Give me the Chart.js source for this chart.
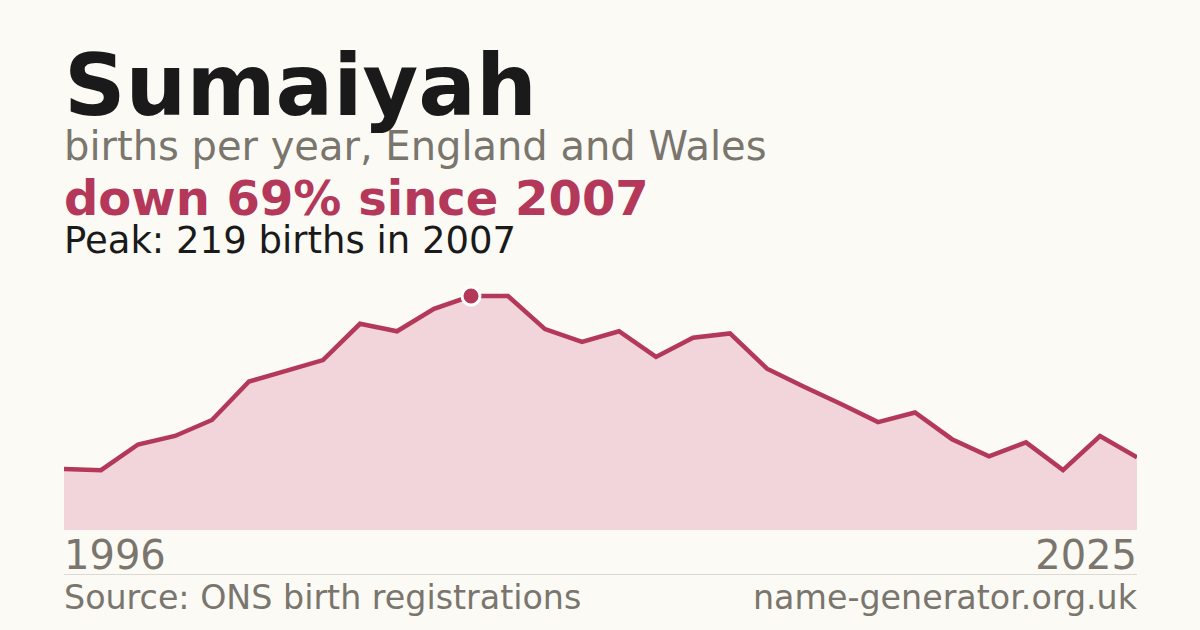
<!DOCTYPE html>
<html lang="en">
<head>
    <meta charset="UTF-8">
    <title>Sumaiyah - births per year</title>
    <script src="https://cdn.jsdelivr.net/npm/chart.js"></script>
    <style>
        body {
            margin: 0;
            width: 1200px;
            height: 630px;
            background: #fbfaf5;
            font-family: "DejaVu Sans", sans-serif;
            position: relative;
            overflow: hidden;
        }

        .txt {
            position: absolute;
            left: 64px;
            line-height: 1;
            white-space: nowrap;
        }

        .title { top: 43px; font-size: 85.5px; font-weight: 700; color: #1a1a1a; }
        .subtitle { top: 126px; font-size: 40px; color: #7a756d; }
        .change { top: 174px; font-size: 48px; font-weight: 700; color: #b3385a; }
        .peak { top: 222px; font-size: 37px; color: #1a1a1a; }
        .year { top: 535px; font-size: 40px; color: #7a756d; }
        .foot { top: 581px; font-size: 33.3px; color: #7a756d; }
        .right { left: auto; right: 63px; }

        .divider {
            position: absolute;
            left: 64px;
            width: 1073px;
            top: 574px;
            height: 1px;
            background: #dcd9d3;
        }

        #chartWrap {
            position: absolute;
            left: 64px;
            top: 270px;
            width: 1073px;
            height: 260px;
        }
    </style>
</head>
<body>
    <div class="txt title">Sumaiyah</div>
    <div class="txt subtitle">births per year, England and Wales</div>
    <div class="txt change">down 69% since 2007</div>
    <div class="txt peak">Peak: 219 births in 2007</div>

    <div id="chartWrap"><canvas id="namesChart" width="1073" height="260"></canvas></div>

    <div class="txt year">1996</div>
    <div class="txt year right">2025</div>
    <div class="divider"></div>
    <div class="txt foot">Source: ONS birth registrations</div>
    <div class="txt foot right">name-generator.org.uk</div>

    <script>
        // births per year
        const years = [1996, 1997, 1998, 1999, 2000, 2001, 2002, 2003, 2004, 2005,
                       2006, 2007, 2008, 2009, 2010, 2011, 2012, 2013, 2014, 2015,
                       2016, 2017, 2018, 2019, 2020, 2021, 2022, 2023, 2024, 2025];
        const births = [57, 56, 80, 88, 103, 139, 149, 159, 193, 186,
                        207, 219, 219, 188, 176, 186, 162, 180, 184, 151,
                        134, 118, 101, 110, 85, 69, 82, 56, 88, 68];

        const peakValue = Math.max(...births);
        const peakIndex = births.indexOf(peakValue);
        const red = '#b3385a';

        new Chart(document.getElementById('namesChart'), {
            type: 'line',
            data: {
                labels: years,
                datasets: [{
                    data: births,
                    borderColor: red,
                    borderWidth: 4.5,
                    backgroundColor: '#f2d5db',
                    fill: 'origin',
                    tension: 0,
                    borderJoinStyle: 'miter',
                    pointRadius: ctx => ctx.dataIndex === peakIndex ? 9 : 0,
                    pointBackgroundColor: red,
                    pointBorderColor: '#ffffff',
                    pointBorderWidth: 3
                }]
            },
            options: {
                responsive: false,
                animation: false,
                layout: { padding: 0 },
                plugins: {
                    legend: { display: false },
                    tooltip: { enabled: false }
                },
                scales: {
                    x: { display: false, offset: false },
                    y: { display: false, min: 0, max: peakValue / 0.9 }
                }
            }
        });
    </script>
</body>
</html>
